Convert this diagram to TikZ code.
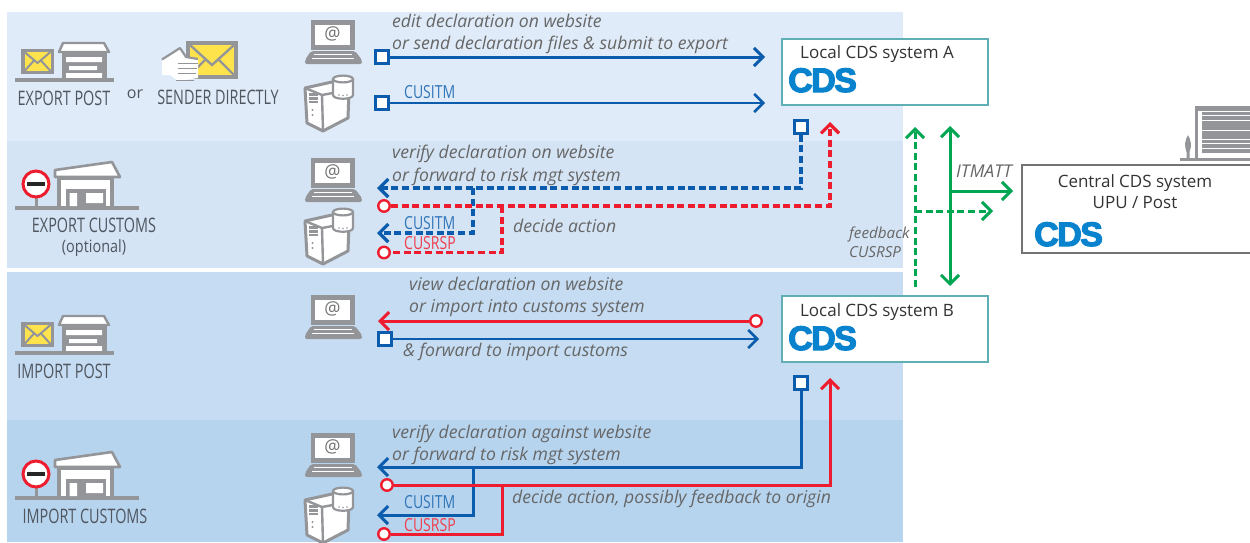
\documentclass[tikz,border=0pt]{standalone}
\usepackage{fontspec}
\setmainfont{Open Sans}
\newfontfamily\cdsfont[UprightFont=* Bold,FakeBold=3.4,LetterSpace=-4.5]{Liberation Sans}
\usetikzlibrary{arrows.meta}
\definecolor{bandA}{HTML}{DFEBF8}
\definecolor{bandB}{HTML}{D4E4F4}
\definecolor{bandC}{HTML}{C5DCF2}
\definecolor{bandD}{HTML}{B7D4EE}
\definecolor{cblue}{HTML}{0B5CAD}
\definecolor{cred}{HTML}{ED1C2E}
\definecolor{cgreen}{HTML}{00A651}
\definecolor{icon}{HTML}{939598}
\definecolor{mail}{HTML}{FFE34D}
\definecolor{logo}{HTML}{0A83CE}
\definecolor{note}{HTML}{666666}
\definecolor{caps}{HTML}{4F5660}
\definecolor{tealb}{HTML}{5FAFB5}
\tikzset{
 x=1pt,y=-1pt,
 flow/.style={line width=3pt},
 flowtip/.style={-{Straight Barb[length=9pt,width=18pt]}},
 flowboth/.style={{Straight Barb[length=9pt,width=18pt]}-{Straight Barb[length=9pt,width=18pt]}},
 dashy/.style={line width=3.2pt,dash pattern=on 7pt off 3.6pt},
 sq/.style={draw=cblue,fill=white,line width=3pt,minimum size=12.5pt,inner sep=0pt,rectangle},
 circ/.style={draw=cred,fill=white,line width=2.4pt,minimum size=11.5pt,inner sep=0pt,circle},
 say/.style={anchor=base west,inner sep=0pt,text=note,font=\fontsize{17.6}{19}\selectfont\itshape},
 small/.style={anchor=base west,inner sep=0pt,text=note,font=\fontsize{15.2}{17}\selectfont\itshape},
 msg/.style={anchor=base west,inner sep=0pt,font=\fontsize{18}{20}\selectfont,xscale=.78,transform shape},
 lab/.style={inner sep=0pt,text=caps,font=\fontsize{20}{22}\selectfont,xscale=.72,transform shape},
 sys/.style={inner sep=0pt,text=black!80,font=\fontsize{17}{19}\selectfont},
 cdsbox/.style={draw=tealb,fill=white,line width=1.2pt,minimum width=206pt,minimum height=66pt,inner sep=0pt,rectangle},
 cdslogo/.style={anchor=base west,inner sep=0pt,text=logo,font=\fontsize{34}{36}\cdsfont\selectfont},
 laptop/.pic={
  \fill[icon] (6,0) rectangle (50,30);
  \fill[white] (10,5) rectangle (45,25);
  \node[inner sep=0pt,text=black!55,font=\fontsize{18}{19}\selectfont] at (27.5,14) {@};
  \fill[icon,rounded corners=2pt] (6,31)--(50,31)--(57,40)--(57,44)--(0,44)--(0,40)--cycle;
  \draw[white,line width=.7pt] (9,34.5)--(47,34.5) (7,38.5)--(49,38.5);
 },
 tower/.pic={
  \draw[icon,line width=3pt,fill=white,line join=round] (2,14)--(29,8)--(46,16)--(45,44)--(20,57)--(4,49)--cycle;
  \draw[icon,line width=2.4pt] (2,14)--(19,21)--(46,16) (19,21)--(20,57);
  \fill[icon] (6,19) rectangle (15,29);
  \draw[white,line width=1pt] (6,22.5)--(15,22.5) (6,26)--(15,26);
  \fill[icon] (9.5,36) circle (1.2) (9.5,41) circle (1.2);
  \draw[icon,line width=2.2pt,fill=white] (30,5) -- (30,21) .. controls (30,26) and (50,26) .. (50,21) -- (50,5);
  \draw[icon,line width=2.2pt,fill=white] (40,5) ellipse (10 and 3.4);
  \fill[icon] (36,21) circle (.8) (40,21.5) circle (.8) (44,21) circle (.8);
 },
 postoffice/.pic={
  \fill[icon] (6,8) rectangle (39,33);
  \fill[mail] (9.5,11) rectangle (35.5,30);
  \draw[icon,line width=2pt] (9.5,11)--(22.5,22)--(35.5,11) (9.5,30)--(19,19.5) (35.5,30)--(26,19.5);
  \draw[icon,line width=2.4pt,fill=white,line join=round] (44,11)--(48,2)--(89,2)--(94,11)--cycle;
  \fill[icon] (47,11) rectangle (92,37);
  \fill[white] (51,16) rectangle (87,21) (54,25) rectangle (82,29) (51,32) rectangle (87,37);
  \fill[icon] (0,37) rectangle (99,41);
 },
 customs/.pic={
  \fill[icon] (15,206) rectangle (139,210);
  \fill[icon] (34.5,195) rectangle (38,206);
  \draw[cred,line width=3pt,fill=white] (36,184) circle (13);
  \fill[black!85] (27,182) rectangle (45,186);
  \fill[icon] (57,177) rectangle (114,206);
  \fill[white] (61,180) rectangle (110,206);
  \fill[icon] (66,189) rectangle (106,206);
  \fill[white] (69.5,193) rectangle (77,206) (86,193) rectangle (103,203);
  \draw[icon,line width=2.6pt,fill=white,line join=round] (55,170)--(112,162)--(120,177)--(55,177)--cycle;
 },
}
\begin{document}
\begin{tikzpicture}
\useasboundingbox (0,0) rectangle (1250,542);
\fill[white] (0,0) rectangle (1250,542);
\fill[bandA] (7,12) rectangle (903,141);
\fill[bandB] (7,141) rectangle (903,268);
\fill[bandC] (7,272) rectangle (903,420);
\fill[bandD] (7,420) rectangle (903,542);

% icons
\pic at (15,41) {postoffice};
\pic at (15,314) {postoffice};
\pic at (0,0) {customs};
\pic at (0,290) {customs};
\pic at (305,20) {laptop};
\pic at (305,158) {laptop};
\pic at (305,295) {laptop};
\pic at (305,433) {laptop};
\pic at (303,74) {tower};
\pic at (303,207) {tower};
\pic at (303,486) {tower};
% envelope held by hand
\fill[icon] (186,41) rectangle (238,79);
\fill[mail] (190,45) rectangle (234,75);
\draw[icon,line width=2.4pt] (190,45)--(212,65)--(234,45) (190,75)--(205,60) (234,75)--(219,60);
\fill[white] (162,60)--(180,48)--(186,57)--(198,59)--(198,78)--(178,81)--(170,75)--(162,75)--cycle;
\draw[icon,line width=2.2pt,line join=round] (162,59.5)--(180,48)--(186,57)--(198,59);
\draw[icon,line width=1.8pt] (178,63.5)--(198,63.5) (178,68.5)--(197,68.5) (178,73.5)--(196,73.5) (176,80.5)--(194,80.5);
% central office icon
\fill[icon] (1195,106) rectangle (1250,111);
\fill[icon] (1195,106) rectangle (1198,158);
\fill[icon] (1202,112) rectangle (1250,153);
\draw[white,line width=1pt] (1202,115)--(1250,115) (1202,120)--(1250,120) (1202,130)--(1250,130) (1202,139)--(1250,139) (1202,143.5)--(1250,143.5) (1202,148)--(1250,148);
\fill[icon] (1180,158) rectangle (1250,161);
\fill[icon] (1188,135) .. controls (1191,140) and (1192,146) .. (1189.5,152) -- (1189.5,158) -- (1186.5,158) -- (1186.5,152) .. controls (1184,146) and (1185,140) .. (1188,135) -- cycle;

% systems
\node[cdsbox] (A) at (885,72) {};
\node[cdsbox] (B) at (885,329) {};
\node[sys,anchor=base] (Atext) at (877,58) {Local CDS system A};
\node[sys,anchor=base] (Btext) at (877,316) {Local CDS system B};
\node[cdslogo] (Alogo) at (788,92) {CDS};
\node[cdslogo] (Blogo) at (788,350) {CDS};
\draw[black!55,line width=1.4pt,fill=white] (1251,165) -- (1022,165) -- (1022,253) -- (1251,253);
\node[sys,anchor=base] (Ctext) at (1135,187) {Central CDS system};
\node[sys,anchor=base] (Ctext2) at (1135,208) {UPU / Post};
\node[cdslogo] (Clogo) at (1034,246) {CDS};

% connector ends
\node[sq] (s1) at (382,57) {};
\node[sq] (s2) at (382,103) {};
\coordinate (e1) at (765,57);
\coordinate (e2) at (765,103);
\node[sq] (s3) at (801,127) {};
\coordinate (e3) at (377,188);
\coordinate (j3) at (473,188);
\coordinate (e4) at (377,233);
\node[circ] (c3) at (384,206) {};
\coordinate (e5) at (830,122);
\coordinate (j4) at (502,206);
\node[circ] (c4) at (384,252.5) {};
\node[circ] (c5) at (756,321) {};
\coordinate (e6) at (378,321);
\node[sq] (s6) at (385,339) {};
\coordinate (e7) at (759,339);
\node[sq] (s8) at (801,383) {};
\coordinate (e8) at (377,467);
\coordinate (j8) at (473,467);
\coordinate (e9) at (377,515);
\node[circ] (c8) at (387,485) {};
\coordinate (e10) at (830,378);
\coordinate (j10) at (502,485);
\node[circ] (c9) at (384,534) {};
\coordinate (g1a) at (915,287);
\coordinate (g1b) at (915,127);
\coordinate (g1j) at (915,211);
\coordinate (g1e) at (993,211);
\coordinate (g2a) at (950,126);
\coordinate (g2b) at (950,286);
\coordinate (g2j) at (950,191);
\coordinate (g2e) at (1013,191);

% connectors
\draw[flow,flowtip,cblue] (s1) -- (e1);
\draw[flow,flowtip,cblue,line width=2.6pt] (s2) -- (e2);
\draw[flow,flowtip,cblue,dashy] (s3) |- (e3);
\draw[flow,flowtip,cblue,dashy] (j3) |- (e4);
\draw[flow,flowtip,cred,dashy] (c3) -| (e5);
\draw[flow,cred,dashy] (j4) |- (c4);
\draw[flow,flowtip,cred] (c5) -- (e6);
\draw[flow,flowtip,cblue,line width=2.6pt] (s6) -- (e7);
\draw[flow,flowtip,cblue] (s8) |- (e8);
\draw[flow,flowtip,cblue] (j8) |- (e9);
\draw[flow,flowtip,cred] (c8) -| (e10);
\draw[flow,cred] (j10) |- (c9);
\draw[flow,flowtip,cgreen,dashy,line width=3pt] (g1a) -- (g1b);
\draw[flow,flowtip,cgreen,dashy,line width=3pt] (g1j) -- (g1e);
\draw[flow,flowboth,cgreen] (g2a) -- (g2b);
\draw[flow,flowtip,cgreen] (g2j) -- (g2e);

% labels
\node[lab] (l1) at (64,98) {EXPORT POST};
\node[lab] (l2) at (218,97) {SENDER DIRECTLY};
\node[inner sep=0pt,text=caps,font=\fontsize{16}{18}\selectfont] (l3) at (135,94) {or};
\node[lab] (l4) at (94,225) {EXPORT CUSTOMS};
\node[inner sep=0pt,text=caps,font=\fontsize{17}{18}\selectfont,xscale=.85,transform shape] (l5) at (94,248) {(optional)};
\node[lab] (l6) at (64,371) {IMPORT POST};
\node[lab] (l7) at (85,516) {IMPORT CUSTOMS};

\node[say] (t1) at (392,27) {edit declaration on website};
\node[say] (t2) at (392,49) {or send declaration files \& submit to export};
\node[say] (t3) at (392,158) {verify declaration on website};
\node[say] (t4) at (392,181) {or forward to risk mgt system};
\node[say] (t5) at (513,232) {decide action};
\node[say] (t6) at (409,290) {view declaration on website};
\node[say] (t7) at (409,312) {or import into customs system};
\node[say] (t8) at (403,356) {\& forward to import customs};
\node[say] (t9) at (392,438) {verify declaration against website};
\node[say] (t10) at (392,460) {or forward to risk mgt system};
\node[say] (t11) at (512,503) {decide action, possibly feedback to origin};
\node[small] (t12) at (849,238) {feedback};
\node[small] (t13) at (849,257) {CUSRSP};
\node[say] (t14) at (956,177) {ITMATT};

\node[msg,text=cblue!85!white] (m1) at (404,98) {CUSITM};
\node[msg,text=cblue!85!white] (m2) at (404,229) {CUSITM};
\node[msg,text=cred!85!white] (m3) at (404,249) {CUSRSP};
\node[msg,text=cblue!85!white] (m4) at (404,508) {CUSITM};
\node[msg,text=cred!85!white] (m5) at (404,531) {CUSRSP};
\end{tikzpicture}
\end{document}
